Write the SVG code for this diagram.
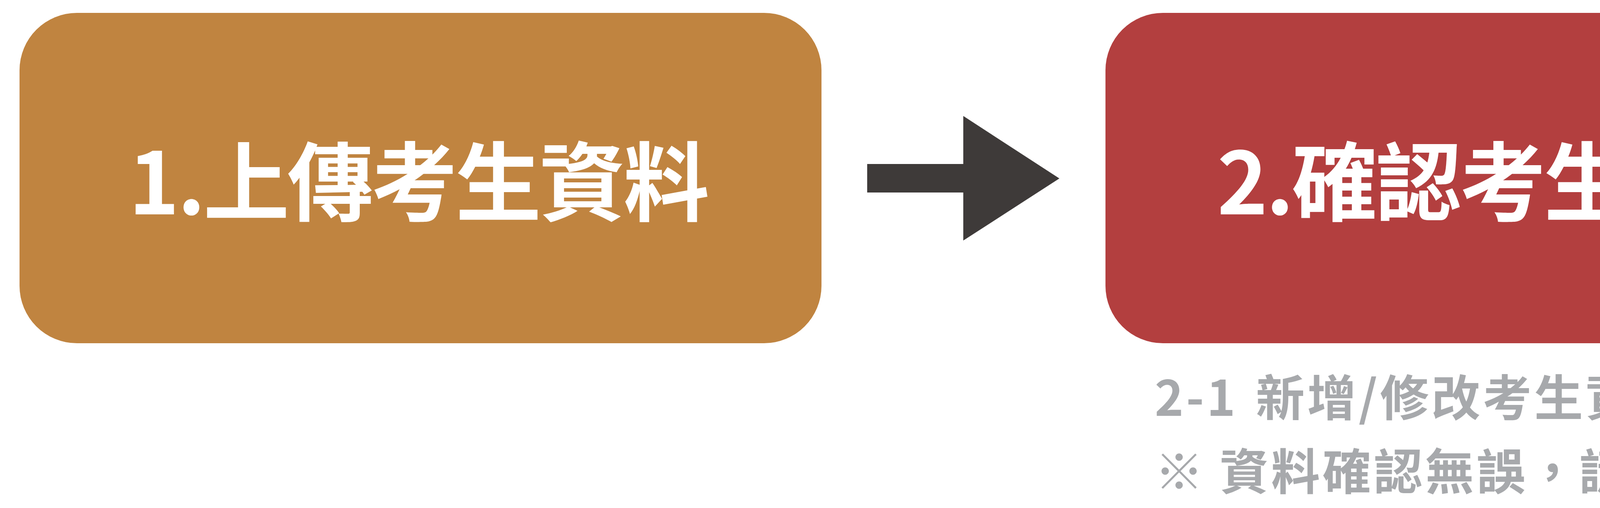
<svg xmlns="http://www.w3.org/2000/svg" width="7713" height="1301" viewBox="0 0 7713 1301">
  <style>
    .box-gold { fill: #c08440; }
    .box-red { fill: #b33f3f; }
    .title { font-family: "Noto Sans CJK TC", "Noto Sans CJK SC", sans-serif; font-weight: 700; font-size: 220px; fill: #ffffff; text-anchor: middle; letter-spacing: -5px; }
    .note { font-family: "Noto Sans CJK TC", "Noto Sans CJK SC", sans-serif; font-weight: 700; font-size: 125px; fill: #a7a9ac; letter-spacing: 6.5px; }
    .arrow { fill: #3e3a39; }
  </style>
  <rect width="7713" height="1301" fill="#ffffff"/>
  <g id="node1">
    <rect class="box-gold" x="50" y="33" width="2053" height="846" rx="147" ry="147"/>
    <text class="title" x="1070" y="549">1.上傳考生資料</text>
  </g>
  <g id="node2">
    <rect class="box-red" x="2830" y="33" width="2053" height="846" rx="147" ry="147"/>
    <text class="title" x="3856.5" y="549">2.確認考生資料</text>
    <text class="note" y="1065"><tspan x="2956">2-1</tspan><tspan x="3215">新增/修改考生資料</tspan></text>
    <text class="note" x="2956" y="1254">※ 資料確認無誤，請按「送出審核」</text>
  </g>
  <g id="node3">
    <rect class="box-red" x="5610" y="33" width="2053" height="846" rx="147" ry="147"/>
    <text class="title" x="6636.5" y="549">3.完成報名流程</text>
  </g>
  <g id="connectors">
    <polygon class="arrow" points="2220,420 2466,420 2466,297 2712,457 2466,616 2466,493 2220,493"/>
    <polygon class="arrow" points="5001,420 5246,420 5246,297 5492,457 5246,616 5246,493 5001,493"/>
  </g>
</svg>
